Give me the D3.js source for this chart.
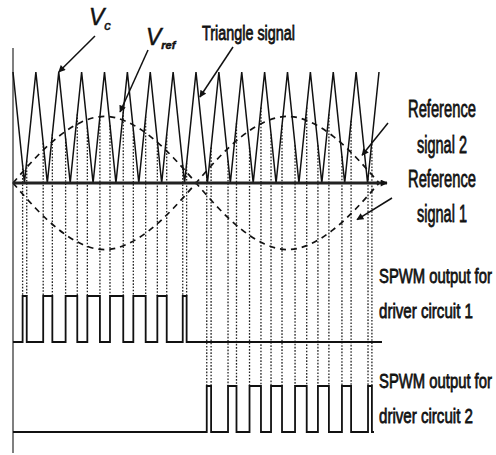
<!DOCTYPE html>
<html>
<head>
<meta charset="utf-8">
<script src="https://cdn.jsdelivr.net/npm/d3@7"></script>
<style>
  body { margin: 0; background: #fff; }
  text { font-family: "Liberation Sans", Arial, sans-serif; fill: #111; }
</style>
</head>
<body>
<div id="chart"></div>
<script>
// time is measured in carrier periods (16 carrier periods = one reference cycle)

// triangle carrier: vertex times and levels (1 = peak, 0 = trough)
var triangle_t = [0, 0.5, 1, 1.5, 2, 2.5, 3, 3.5, 4, 4.5, 5, 5.5, 6, 6.5, 7, 7.5, 8,
                  8.5, 9, 9.5, 10, 10.5, 11, 11.5, 12, 12.5, 13, 13.5, 14, 14.5, 15, 15.5, 16];
var triangle_v = [1, 0, 1, 0, 1, 0, 1, 0, 1, 0, 1, 0, 1, 0, 1, 0, 1,
                  0, 1, 0, 1, 0, 1, 0, 1, 0, 1, 0, 1, 0, 1, 0, 1];

// reference signals, sampled once per carrier period
var ref_t = [0, 1, 2, 3, 4, 5, 6, 7, 8, 9, 10, 11, 12, 13, 14, 15, 16];
var ref1_v = [0, 0.23, 0.42, 0.55, 0.6, 0.55, 0.42, 0.23, 0, -0.23, -0.42, -0.55, -0.6, -0.55, -0.42, -0.23, 0];
var ref2_v = [0, -0.23, -0.42, -0.55, -0.6, -0.55, -0.42, -0.23, 0, 0.23, 0.42, 0.55, 0.6, 0.55, 0.42, 0.23, 0];

// SPWM pulses [rise, fall]
var pulses1 = [[0.42, 0.60], [1.32, 1.72], [2.30, 2.81], [3.25, 3.80], [4.24, 4.82],
               [5.26, 5.80], [6.31, 6.72], [7.42, 7.59]];
var pulses2 = [[8.47, 8.66], [9.40, 9.77], [10.34, 10.84], [11.28, 11.76], [12.33, 12.84],
               [13.33, 13.81], [14.38, 14.78], [15.52, 15.69]];
var out1_end = 16.13;
var out2_end = 15.78;

var width = 496, height = 455;
var ink = "#111";

var svg = d3.select("#chart").append("svg")
  .attr("width", width)
  .attr("height", height);

var defs = svg.append("defs");
defs.append("marker")
  .attr("id", "head")
  .attr("viewBox", "0 0 10 10")
  .attr("refX", 9).attr("refY", 5)
  .attr("markerWidth", 9).attr("markerHeight", 7)
  .attr("markerUnits", "userSpaceOnUse")
  .attr("orient", "auto")
  .append("path")
  .attr("d", "M0,0 L10,5 L0,10 z")
  .attr("fill", ink);

var x = d3.scaleLinear().domain([0, 16]).range([13, 379]);
var y = d3.scaleLinear().domain([0, 1]).range([183, 72]);
var yOut1 = d3.scaleLinear().domain([0, 1]).range([342, 296]);
var yOut2 = d3.scaleLinear().domain([0, 1]).range([432, 386]);

// piecewise scale through the carrier vertices (to find where the dotted lines start)
var triLevel = d3.scaleLinear().domain(triangle_t).range(triangle_v);

// vertical axis
svg.append("line")
  .attr("x1", x(0)).attr("x2", x(0))
  .attr("y1", 48).attr("y2", 453)
  .attr("stroke", "#555").attr("stroke-width", 1.5);

// dotted projection lines
function dotted(pulses, yOut) {
  var edges = [];
  pulses.forEach(function(p) { edges.push(p[0], p[1]); });
  svg.append("g").selectAll("line")
    .data(edges).enter().append("line")
    .attr("x1", function(d) { return x(d); })
    .attr("x2", function(d) { return x(d); })
    .attr("y1", function(d) { return y(triLevel(d)); })
    .attr("y2", yOut(1))
    .attr("stroke", "#222")
    .attr("stroke-width", 1.3)
    .attr("stroke-dasharray", "1.6,1.6");
}
dotted(pulses1, yOut1);
dotted(pulses2, yOut2);

// triangle carrier
var tri = triangle_t.map(function(t, i) { return [t, triangle_v[i]]; });
svg.append("path")
  .attr("d", d3.line().x(function(d) { return x(d[0]); }).y(function(d) { return y(d[1]); })(tri))
  .attr("fill", "none")
  .attr("stroke", ink)
  .attr("stroke-width", 1.5);

// reference signals (dashed)
var refLine = d3.line()
  .x(function(d) { return x(d[0]); })
  .y(function(d) { return y(d[1]); })
  .curve(d3.curveNatural);
[ref1_v, ref2_v].forEach(function(vals) {
  svg.append("path")
    .attr("d", refLine(ref_t.map(function(t, i) { return [t, vals[i]]; })))
    .attr("fill", "none")
    .attr("stroke", ink)
    .attr("stroke-width", 1.7)
    .attr("stroke-dasharray", "6,5");
});

// time axis
svg.append("line")
  .attr("x1", x(0)).attr("x2", 387)
  .attr("y1", y(0)).attr("y2", y(0))
  .attr("stroke", "#222").attr("stroke-width", 2.8)
  .attr("marker-end", "url(#head)");

// SPWM outputs
function pulseTrain(pulses, yOut, endT) {
  var pts = [[0, 0]];
  pulses.forEach(function(p) {
    pts.push([p[0], 0], [p[0], 1], [p[1], 1], [p[1], 0]);
  });
  pts.push([endT, 0]);
  svg.append("path")
    .attr("d", d3.line().x(function(d) { return x(d[0]); }).y(function(d) { return yOut(d[1]); })(pts))
    .attr("fill", "none")
    .attr("stroke", ink)
    .attr("stroke-width", 1.8);
}
pulseTrain(pulses1, yOut1, out1_end);
pulseTrain(pulses2, yOut2, out2_end);

// annotation arrows: tail in pixels, tip in data units
function arrow(x1, y1, t, v) {
  svg.append("line")
    .attr("x1", x1).attr("y1", y1)
    .attr("x2", x(t)).attr("y2", y(v))
    .attr("stroke", ink).attr("stroke-width", 1.5)
    .attr("marker-end", "url(#head)");
}
arrow(95, 36, 2.0, 1.0);
arrow(148, 50, 4.68, 0.64);
arrow(233, 47, 8.17, 0.775);
arrow(388, 123, 15.26, 0.25);
arrow(392, 198, 15.04, -0.33);

// labels
var vc = svg.append("text").attr("x", 89).attr("y", 25)
  .style("font-style", "italic").style("font-size", "23px")
  .attr("stroke", ink).attr("stroke-width", 0.5);
vc.append("tspan").text("V");
vc.append("tspan").attr("dy", 5).style("font-size", "13px").text("c");

var vr = svg.append("text").attr("x", 146).attr("y", 45)
  .style("font-style", "italic").style("font-size", "23px")
  .attr("stroke", ink).attr("stroke-width", 0.5);
vr.append("tspan").text("V");
vr.append("tspan").attr("dy", 4).style("font-size", "11px").style("font-weight", "bold").text("ref");

// condensed text: squeeze horizontally to the width measured on the picture
function label(txt, x0, y0, size, len, anchor) {
  var g = svg.append("g");
  var t = g.append("text")
    .attr("x", 0).attr("y", 0)
    .attr("stroke", ink).attr("stroke-width", 0.8)
    .style("font-size", size + "px")
    .text(txt);
  var w = t.node().getComputedTextLength();
  var sx = len / w;
  var left = anchor === "middle" ? x0 - len / 2 : x0;
  g.attr("transform", "translate(" + left + "," + y0 + ") scale(" + sx + ",1)");
}
label("Triangle signal", 202, 40, 21, 93);
label("Reference", 442, 117, 24, 68, "middle");
label("signal 2", 442, 153, 24, 50, "middle");
label("Reference", 442, 187, 24, 68, "middle");
label("signal 1", 442, 222, 24, 50, "middle");
label("SPWM output for", 379, 283, 21, 113);
label("driver circuit 1", 379, 318, 21, 94);
label("SPWM output  for", 379, 388, 21, 113);
label("driver circuit 2", 379, 423, 21, 94);
</script>
</body>
</html>
